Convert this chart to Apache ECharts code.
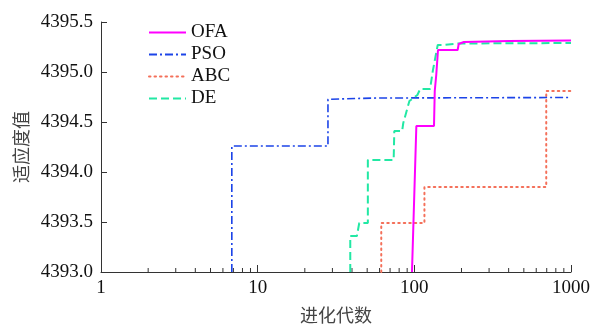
<!DOCTYPE html>
<html>
<head>
<meta charset="utf-8">
<script src="https://cdn.jsdelivr.net/npm/echarts@6/dist/echarts.min.js"></script>
<style>html,body{margin:0;padding:0;background:#fff}#c{width:596px;height:325px}</style>
</head>
<body>
<div id="c"></div>
<script>
var seriesNames = ['OFA', 'PSO', 'ABC', 'DE'];
var ofaX = [96.6, 103, 133.5, 135, 138, 141.6, 189, 192, 207, 400, 1000];
var ofaY = [4393.0, 4394.46, 4394.46, 4394.81, 4394.97, 4395.22, 4395.22, 4395.28, 4395.30, 4395.31, 4395.315];
var psoX = [6.84, 6.84, 28.1, 28.1, 42, 60, 1000];
var psoY = [4393.0, 4394.26, 4394.26, 4394.727, 4394.735, 4394.74, 4394.745];
var abcX = [61.5, 61.5, 116, 116, 695, 695, 1000];
var abcY = [4393.0, 4393.49, 4393.49, 4393.85, 4393.85, 4394.81, 4394.81];
var deX = [39, 39, 43, 44.5, 50.5, 50.5, 73.8, 74.5, 83.6, 85, 93, 104.6, 109, 126, 131.5, 141, 150, 192, 1000];
var deY = [4393.0, 4393.36, 4393.36, 4393.49, 4393.49, 4394.12, 4394.12, 4394.41, 4394.41, 4394.49, 4394.71, 4394.77, 4394.83, 4394.83, 4395.02, 4395.27, 4395.27, 4395.285, 4395.29];
var minorTickX = [2,3,4,5,6,7,8,9,20,30,40,50,60,70,80,90,200,300,400,500,600,700,800,900];
var yMin = 4393.0, yMax = 4395.5, yStep = 0.5;

function pairs(xs, ys){ return xs.map(function(x,i){ return [x, ys[i]]; }); }
var serif = '"Liberation Serif", "Times New Roman", serif';
var cjk = '"Noto Sans CJK SC", sans-serif';
var axisCol = '#333';

var chart = echarts.init(document.getElementById('c'), null, {renderer:'canvas'});
chart.setOption({
  animation: false,
  backgroundColor: '#fff',
  grid: {left: 101, right: 25, top: 22, bottom: 53, outerBoundsMode: 'none', containLabel: false},
  legend: {
    data: seriesNames,
    orient: 'vertical', left: 143, top: 18,
    itemWidth: 37, itemHeight: 14, itemGap: 3,
    itemStyle: {opacity: 0},
    textStyle: {fontFamily: serif, fontSize: 19, color: '#111'}
  },
  xAxis: {
    type: 'log', logBase: 10, min: 1, max: 1000,
    name: '进化代数', nameLocation: 'middle', nameGap: 34,
    nameTextStyle: {fontFamily: cjk, fontSize: 18, color: '#444'},
    axisLine: {lineStyle: {color: axisCol, width: 1}},
    axisTick: {inside: true, length: 7, lineStyle: {color: axisCol}},
    axisLabel: {fontFamily: serif, fontSize: 19, color: '#111', margin: 7,
      formatter: function(v){ return String(Math.round(v)); }},
    splitLine: {show: false}
  },
  yAxis: {
    type: 'value', min: yMin, max: yMax, interval: yStep,
    name: '适应度值', nameLocation: 'middle', nameGap: 65,
    nameTextStyle: {fontFamily: cjk, fontSize: 18, color: '#444'},
    axisLine: {show: true, lineStyle: {color: axisCol, width: 1}},
    axisTick: {show: true, inside: true, length: 6, lineStyle: {color: axisCol}},
    axisLabel: {fontFamily: serif, fontSize: 19, color: '#111', margin: 8,
      formatter: function(v){ return v.toFixed(1); }},
    splitLine: {show: false}
  },
  series: [
    {name: 'OFA', type: 'line', symbol: 'none', data: pairs(ofaX, ofaY),
      lineStyle: {color: '#ff00ff', width: 2}, itemStyle: {color: '#ff00ff'}, z: 5},
    {name: 'PSO', type: 'line', symbol: 'none', data: pairs(psoX, psoY),
      lineStyle: {color: '#1c44e8', width: 1.6, type: [8, 3, 2, 3]}, itemStyle: {color: '#1c44e8'}, z: 3},
    {name: 'ABC', type: 'line', symbol: 'none', data: pairs(abcX, abcY),
      lineStyle: {color: '#f4705a', width: 2, type: [1.5, 4], cap: 'round'}, itemStyle: {color: '#f4705a'}, z: 2},
    {name: 'DE', type: 'line', symbol: 'none', data: pairs(deX, deY),
      lineStyle: {color: '#22e8a4', width: 2, type: [8, 4]}, itemStyle: {color: '#22e8a4'}, z: 4},
    {name: 'minorTicks', type: 'custom', silent: true, clip: false,
      data: minorTickX.map(function(x){ return [x, yMin]; }),
      renderItem: function(params, api){
        var p = api.coord([api.value(0), api.value(1)]);
        return {type: 'line', shape: {x1: p[0], y1: p[1], x2: p[0], y2: p[1] - 4},
          style: {stroke: axisCol, lineWidth: 1}};
      }, z: 1}
  ]
});
</script>
</body>
</html>
